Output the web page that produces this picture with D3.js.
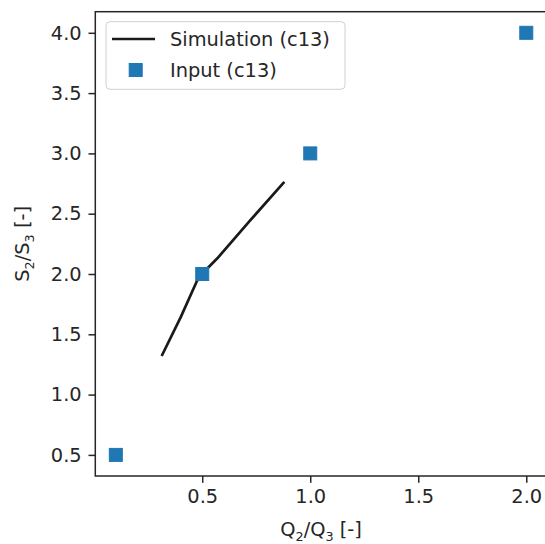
<!DOCTYPE html>
<html>
<head>
<meta charset="utf-8">
<script src="https://cdn.jsdelivr.net/npm/d3@7"></script>
<style>
  html, body { margin: 0; padding: 0; background: #fff; }
  svg { display: block; }
  text { font-family: "DejaVu Sans", sans-serif; fill: #262626; }
</style>
</head>
<body>
<svg id="chart" width="545" height="544"></svg>
<script>
// Simulated stress-ratio curve (c13)
const simQ = [0.315, 0.40, 0.475, 0.52, 0.57, 0.72, 0.876];
const simS = [1.33, 1.64, 1.94, 2.04, 2.13, 2.44, 2.755];

// Input points (c13)
const inQ = [0.1, 0.5, 1.0, 2.0];
const inS = [0.5, 2.0, 3.0, 4.0];

const xTicks = [0.5, 1.0, 1.5, 2.0];
const yTicks = [0.5, 1.0, 1.5, 2.0, 2.5, 3.0, 3.5, 4.0];

const seriesNames = ["Simulation (c13)", "Input (c13)"];
const lineColor = "#1a1a1a";
const markerColor = "#1f77b4";

const fontPx = 19.4;
const plot = { left: 95.3, right: 546.8, top: 11.7, bottom: 476 };

const svg = d3.select("#chart");

// 5% padding around the data extent on both axes
function padded(values) {
  const [lo, hi] = d3.extent(values);
  const m = (hi - lo) * 0.05;
  return [lo - m, hi + m];
}

const x = d3.scaleLinear()
  .domain(padded(simQ.concat(inQ)))
  .range([plot.left, plot.right]);
const y = d3.scaleLinear()
  .domain(padded(simS.concat(inS)))
  .range([plot.bottom, plot.top]);

const simData = simQ.map((q, i) => ({ q, s: simS[i] }));
const inData = inQ.map((q, i) => ({ q, s: inS[i] }));

// Curve
svg.append("path")
  .datum(simData)
  .attr("fill", "none")
  .attr("stroke", lineColor)
  .attr("stroke-width", 2.7)
  .attr("stroke-linecap", "square")
  .attr("stroke-linejoin", "round")
  .attr("d", d3.line().x(d => x(d.q)).y(d => y(d.s)));

// Square markers
const ms = 13;
svg.append("g").selectAll("rect")
  .data(inData)
  .join("rect")
  .attr("x", d => x(d.q) - ms / 2)
  .attr("y", d => y(d.s) - ms / 2)
  .attr("width", ms)
  .attr("height", ms)
  .attr("fill", markerColor)
  .attr("stroke", markerColor)
  .attr("stroke-width", 1);

// Axes
const tickLen = 6.8;
const xAxis = svg.append("g")
  .attr("transform", `translate(0,${plot.bottom})`)
  .call(d3.axisBottom(x).tickValues(xTicks).tickFormat(d3.format(".1f"))
    .tickSize(tickLen).tickPadding(6.8).tickSizeOuter(0));
const yAxis = svg.append("g")
  .attr("transform", `translate(${plot.left},0)`)
  .call(d3.axisLeft(y).tickValues(yTicks).tickFormat(d3.format(".1f"))
    .tickSize(tickLen).tickPadding(6.8).tickSizeOuter(0));

[xAxis, yAxis].forEach(g => {
  g.select(".domain").remove();
  g.selectAll(".tick line").attr("stroke", "#262626").attr("stroke-width", 1.5);
  g.selectAll(".tick text")
    .style("font-family", "'DejaVu Sans', sans-serif")
    .style("font-size", fontPx + "px")
    .attr("fill", "#262626");
});

// Frame
svg.append("rect")
  .attr("x", plot.left)
  .attr("y", plot.top)
  .attr("width", plot.right - plot.left)
  .attr("height", plot.bottom - plot.top)
  .attr("fill", "none")
  .attr("stroke", "#262626")
  .attr("stroke-width", 1.5);

// Axis labels with subscripts
function labelWithSubs(sel, parts) {
  parts.forEach(p => {
    const t = sel.append("tspan").text(p.t);
    if (p.sub) {
      t.attr("font-size", fontPx * 0.66).attr("dy", 5);
    } else if (p.after) {
      t.attr("dy", -5);
    }
  });
}

const xl = svg.append("text")
  .attr("x", (plot.left + plot.right) / 2)
  .attr("y", 536)
  .attr("text-anchor", "middle")
  .attr("font-size", fontPx);
labelWithSubs(xl, [
  { t: "Q" }, { t: "2", sub: true }, { t: "/Q", after: true },
  { t: "3", sub: true }, { t: " [-]", after: true }
]);

const yl = svg.append("text")
  .attr("transform", `translate(29,${(plot.top + plot.bottom) / 2}) rotate(-90)`)
  .attr("text-anchor", "middle")
  .attr("font-size", fontPx);
labelWithSubs(yl, [
  { t: "S" }, { t: "2", sub: true }, { t: "/S", after: true },
  { t: "3", sub: true }, { t: " [-]", after: true }
]);

// Legend
const lg = svg.append("g");
lg.append("rect")
  .attr("x", 106).attr("y", 21.7)
  .attr("width", 239).attr("height", 67.6)
  .attr("rx", 4).attr("ry", 4)
  .attr("fill", "#fff").attr("fill-opacity", 0.8)
  .attr("stroke", "#d0d0d0").attr("stroke-width", 1);

lg.append("line")
  .attr("x1", 112).attr("x2", 155)
  .attr("y1", 39).attr("y2", 39)
  .attr("stroke", lineColor).attr("stroke-width", 2.7);

lg.append("rect")
  .attr("x", 135.7 - ms / 2).attr("y", 70 - ms / 2)
  .attr("width", ms).attr("height", ms)
  .attr("fill", markerColor).attr("stroke", markerColor);

lg.selectAll("text.entry")
  .data(seriesNames)
  .join("text")
  .attr("class", "entry")
  .attr("x", 170)
  .attr("y", (d, i) => [39, 70][i])
  .attr("dy", "0.36em")
  .attr("font-size", fontPx)
  .text(d => d);
</script>
</body>
</html>
